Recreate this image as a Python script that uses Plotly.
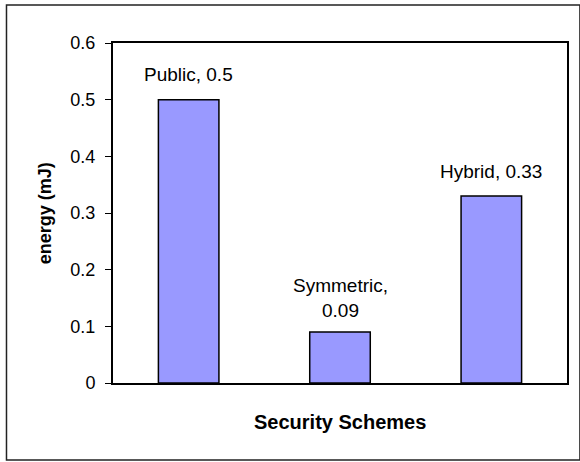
import plotly.graph_objects as go

# Energy cost per security scheme
schemes = ["Public", "Symmetric", "Hybrid"]
energy_mj = [0.5, 0.09, 0.33]
label_breaks = [", ", ",<br>", ", "]  # Symmetric label wraps onto two lines
y_ticks = [0, 0.1, 0.2, 0.3, 0.4, 0.5, 0.6]

FONT = "Liberation Sans, Arial, sans-serif"

fig = go.Figure()
fig.add_trace(go.Bar(
    x=schemes,
    y=energy_mj,
    marker=dict(color="#9999FF", line=dict(color="black", width=1.5)),
    width=0.4,
    showlegend=False,
    hoverinfo="x+y",
))

# Value labels above each bar
for name, val, sep in zip(schemes, energy_mj, label_breaks):
    two_line = "<br>" in sep
    fig.add_annotation(
        x=name, y=val, xref="x", yref="y",
        text=f"{name}{sep}{val:g}",
        showarrow=False,
        yanchor="middle",
        yshift=34 if two_line else 25,
        font=dict(family=FONT, size=19, color="black"),
    )

# Axis titles
fig.add_annotation(
    text="<b>Security Schemes</b>", xref="paper", yref="paper",
    x=0.5, y=-0.115, yanchor="middle", showarrow=False,
    font=dict(family=FONT, size=20, color="black"),
)
fig.add_annotation(
    text="<b>energy (mJ)</b>", xref="paper", yref="paper",
    x=-0.149, y=0.5, xanchor="center", yanchor="middle", textangle=-90,
    showarrow=False, font=dict(family=FONT, size=18, color="black"),
)

# Chart-area frame
fig.add_shape(
    type="rect", xref="paper", yref="paper",
    x0=-0.2346, x1=1.0285, y0=-0.2265, y1=1.1118,
    line=dict(color="#222222", width=1.5), layer="below",
)

fig.update_layout(
    width=580, height=462,
    margin=dict(l=113, r=11, t=43, b=79),
    paper_bgcolor="white", plot_bgcolor="white",
    font=dict(family=FONT, size=18, color="black"),
    xaxis=dict(
        showticklabels=False, ticks="", showgrid=False, zeroline=False,
        showline=True, linecolor="black", linewidth=2, mirror=True,
        range=[-0.5, 2.5],
    ),
    yaxis=dict(
        range=[0, 0.6], tickvals=y_ticks, ticktext=[f"{t:g}" for t in y_ticks],
        ticks="outside", ticklen=6, tickcolor="black", tickwidth=1,
        ticklabelstandoff=6,
        showgrid=False, zeroline=False,
        showline=True, linecolor="black", linewidth=2, mirror=True,
        tickfont=dict(family=FONT, size=18, color="black"),
    ),
)

fig.write_html("out.html")
